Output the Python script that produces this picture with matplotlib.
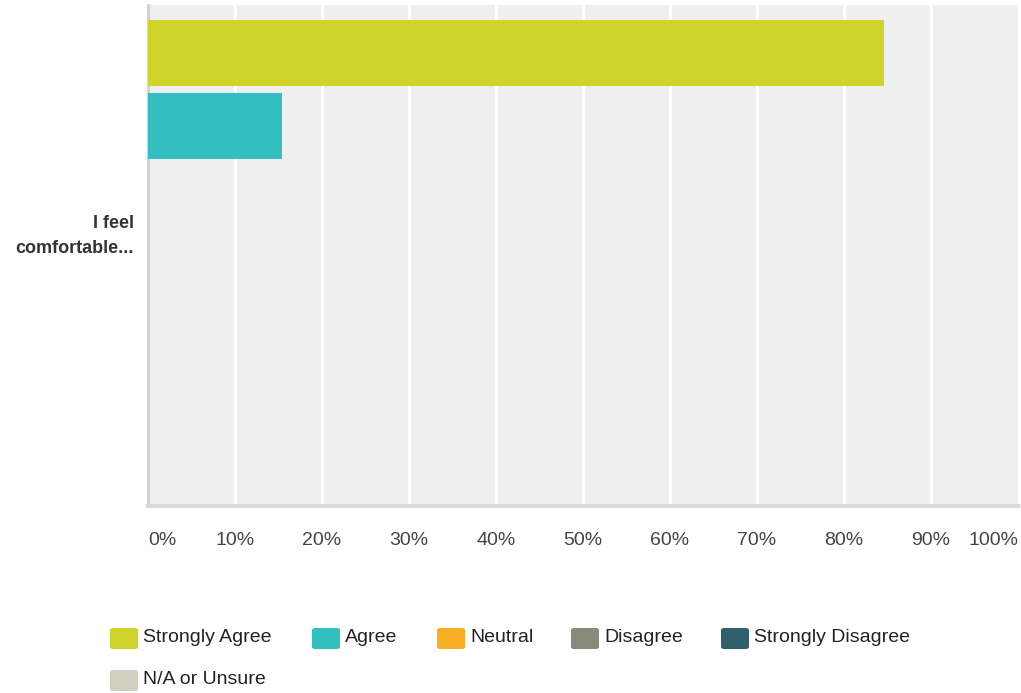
import matplotlib
matplotlib.use("Agg")
import matplotlib.pyplot as plt
from matplotlib.patches import FancyBboxPatch

# survey results for the single question
question = "I feel\ncomfortable..."
answers = ["Strongly Agree", "Agree", "Neutral", "Disagree",
           "Strongly Disagree", "N/A or Unsure"]
percent = [84.62, 15.38, 0, 0, 0, 0]
colors = ["#d0d42a", "#33bec0", "#f7ae22", "#888a7a", "#30606d", "#d0cfc0"]
ticks = [0, 10, 20, 30, 40, 50, 60, 70, 80, 90, 100]

plt.rcParams["font.family"] = ["Liberation Sans", "DejaVu Sans"]

W, H = 1021, 693
fig = plt.figure(figsize=(W / 100, H / 100), dpi=100)
ax = fig.add_axes([148 / W, (H - 506) / H, (1018 - 148) / W, 501 / H])
ax.set_facecolor("#efefef")

bar_h = 66
step = 73
for i, (name, val, c) in enumerate(zip(answers, percent, colors)):
    ax.barh(15 + i * step + bar_h / 2, val, height=bar_h, color=c,
            zorder=3, label=name)

ax.set_xlim(0, 100)
ax.set_ylim(501, 0)
ax.set_xticks(ticks)
labels = ax.set_xticklabels([f"{t}%" for t in ticks], fontsize=14,
                            color="#444444")
labels[0].set_ha("left")
labels[-1].set_ha("right")
ax.tick_params(axis="x", length=0, pad=19)
for t in ticks[1:-1]:
    ax.axvline(t, color="white", lw=2.2, zorder=1)

ax.set_yticks([225])
ax.set_yticklabels([question], fontsize=13, fontweight="bold",
                   color="#333333", ha="right", linespacing=1.65)
ax.tick_params(axis="y", length=0, pad=10)

for s in ["top", "right"]:
    ax.spines[s].set_visible(False)
ax.spines["left"].set_color("#d0d0d0")
ax.spines["left"].set_linewidth(2)
ax.spines["bottom"].set_color("#d9d9d9")
ax.spines["bottom"].set_linewidth(3)

# legend drawn by hand in two rows
leg_x = [110, 312, 437, 571, 721, 110]
leg_y = [639, 639, 639, 639, 639, 681]
for name, c, x, y in zip(answers, colors, leg_x, leg_y):
    p = FancyBboxPatch(((x) / W, (H - y - 10) / H), 28 / W, 21 / H,
                       boxstyle="round,pad=0,rounding_size=0.003",
                       transform=fig.transFigure, facecolor=c,
                       edgecolor="none")
    fig.patches.append(p)
    fig.text((x + 33) / W, (H - y + 2) / H, name, fontsize=14,
             color="#222222", va="center", ha="left")

fig.savefig("out.png", dpi=100)
